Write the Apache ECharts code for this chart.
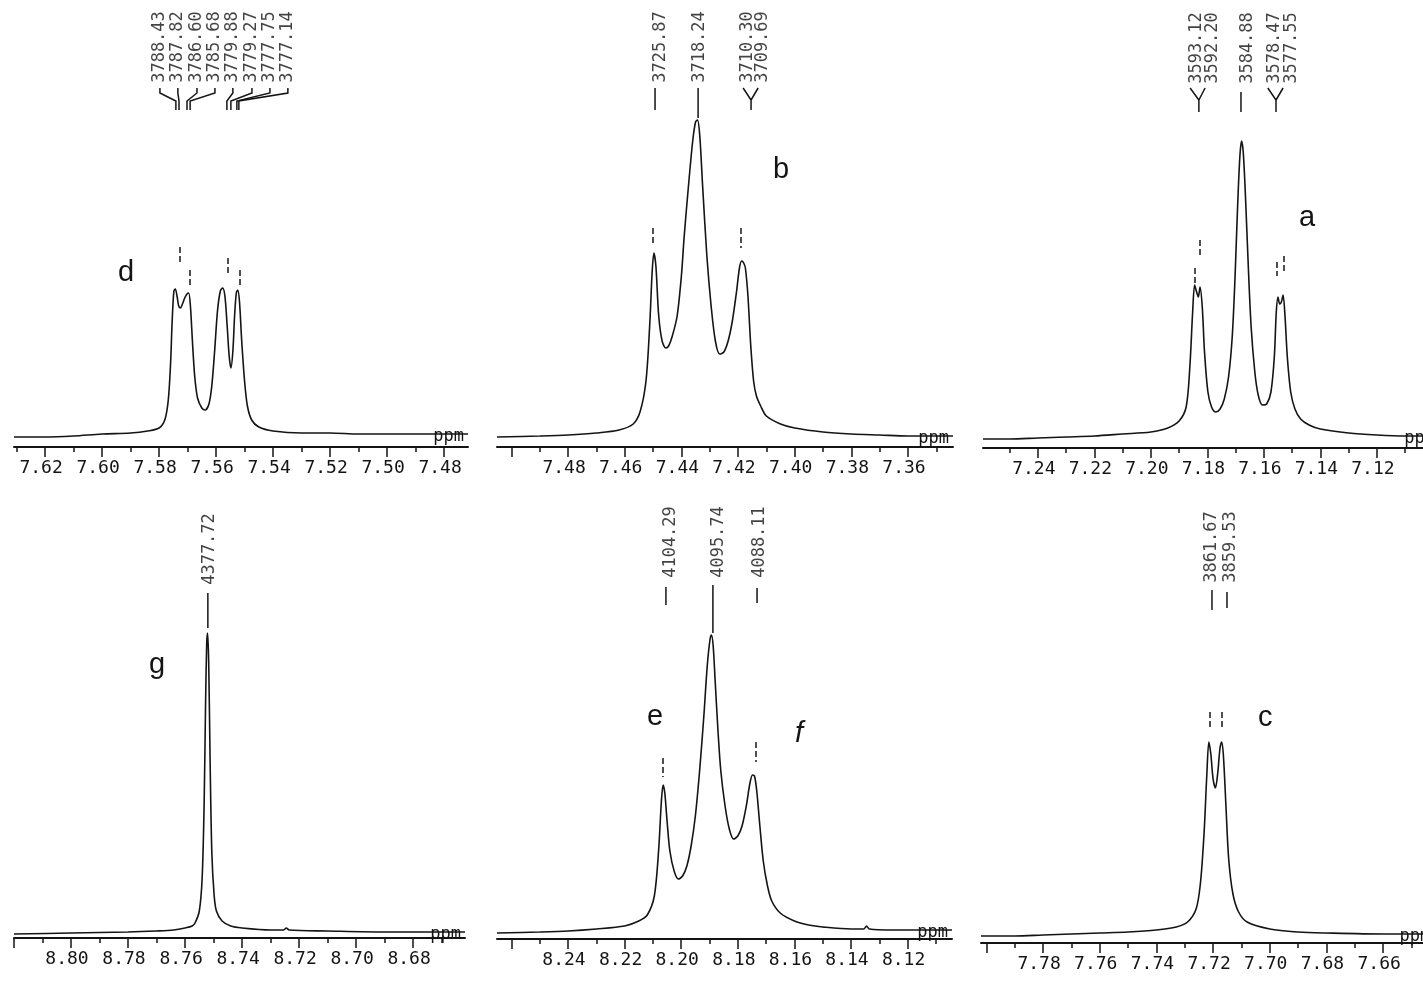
<!DOCTYPE html>
<html><head><meta charset="utf-8">
<script src="https://cdn.jsdelivr.net/npm/echarts@6/dist/echarts.min.js"></script>
<style>html,body{margin:0;padding:0;background:#fff}#c{width:1423px;height:981px}</style>
</head><body><div id="c"></div>
<script>
// ---------------- DATA (ppm positions and intensities) ----------------
const ppmD = [7.6309,7.62,7.61,7.60,7.59,7.584,7.580,7.578,7.5768,7.576,7.5754,7.5748,7.5743,7.5737,7.5731,7.5725,7.5718,7.5710,7.5702,7.5696,7.5690,7.5683,7.5675,7.5665,7.565,7.5638,7.5625,7.5615,7.5605,7.5595,7.5585,7.5577,7.5569,7.5561,7.5554,7.5548,7.5541,7.5535,7.5529,7.5524,7.5518,7.551,7.55,7.549,7.5475,7.545,7.54,7.53,7.52,7.51,7.50,7.49,7.4716];
const intD = [-1,-1,0,2,3,5,8,16,35,70,115,145,147,140,130,128,132,138,142,143,130,95,60,38,28,26,32,50,85,125,145,148,140,110,80,68,85,120,143,146,135,95,55,30,16,9,5,3,3,2,2,2,2];
const hzD  = ['3788.43','3787.82','3786.60','3785.68','3779.88','3779.27','3777.75','3777.14'];

const ppmB = [7.5051,7.49,7.48,7.47,7.462,7.457,7.4545,7.4525,7.4512,7.4503,7.4497,7.449,7.448,7.4468,7.4455,7.4445,7.4432,7.4415,7.44,7.439,7.4375,7.436,7.435,7.4343,7.4335,7.4325,7.431,7.4295,7.428,7.4265,7.425,7.4235,7.422,7.4205,7.4195,7.4187,7.418,7.4174,7.4165,7.4155,7.4145,7.4135,7.412,7.41,7.405,7.40,7.39,7.38,7.37,7.36,7.3441];
const intB = [-1,0,1,3,6,12,25,55,110,165,183,170,120,95,88,90,100,120,160,200,250,295,314,316,300,250,180,130,95,82,84,95,115,145,168,175,173,168,140,90,55,40,30,20,12,8,4,2,1,0,0];
const hzB  = ['3725.87','3718.24','3710.30','3709.69'];

const ppmA = [7.2594,7.25,7.24,7.23,7.22,7.21,7.20,7.194,7.19,7.1875,7.1862,7.1852,7.1845,7.1838,7.1832,7.1826,7.1818,7.181,7.1798,7.1785,7.177,7.1755,7.174,7.1725,7.1712,7.1702,7.1693,7.1685,7.1679,7.1673,7.1665,7.1655,7.1645,7.1632,7.162,7.1605,7.159,7.1575,7.1563,7.1556,7.155,7.1544,7.1538,7.1532,7.1525,7.1517,7.1505,7.149,7.147,7.144,7.14,7.13,7.12,7.11,7.098];
const intA = [-2,-2,-1,0,1,3,5,9,16,30,70,125,152,145,140,150,130,85,45,30,25,28,38,60,100,160,230,280,296,285,240,170,110,65,42,32,33,45,80,125,140,133,135,142,120,80,45,28,18,12,8,4,2,1,1];
const hzA  = ['3593.12','3592.20','3584.88','3578.47','3577.55'];

const ppmG = [8.82,8.80,8.78,8.77,8.764,8.76,8.7575,8.7565,8.755,8.754,8.7533,8.7528,8.7524,8.7521,8.7517,8.7512,8.7506,8.7498,8.749,8.747,8.744,8.74,8.73,8.7255,8.7245,8.7235,8.71,8.69,8.67,8.6618];
const intG = [-1,0,1,2,3,5,7,10,22,55,130,230,290,300,270,170,80,38,22,12,7,5,3,3,5,3,2,1,1,1];
const hzG  = ['4377.72'];

const ppmE = [8.2651,8.25,8.24,8.23,8.22,8.215,8.212,8.2095,8.208,8.207,8.2064,8.2058,8.205,8.204,8.2025,8.201,8.1995,8.198,8.1965,8.195,8.1935,8.192,8.1908,8.1898,8.1893,8.1887,8.188,8.187,8.186,8.1845,8.183,8.1815,8.18,8.1785,8.177,8.1757,8.1748,8.1741,8.1733,8.1722,8.171,8.1695,8.168,8.165,8.16,8.155,8.15,8.14,8.1355,8.1345,8.1335,8.125,8.115,8.1043];
const intE = [-2,-1,0,2,5,10,16,35,80,130,146,138,110,80,60,52,55,65,85,115,160,215,265,292,296,285,250,200,160,125,102,92,95,105,125,148,156,155,140,105,70,45,30,18,10,6,4,2,2,5,2,1,1,1];
const hzE  = ['4104.29','4095.74','4088.11'];

const ppmC = [7.8019,7.79,7.78,7.77,7.76,7.75,7.74,7.733,7.729,7.726,7.7245,7.7232,7.7222,7.7215,7.7208,7.72,7.7192,7.7184,7.7176,7.717,7.7164,7.7155,7.7145,7.713,7.711,7.708,7.70,7.69,7.68,7.66,7.642];
const intC = [-2,-2,-1,0,1,2,4,7,12,25,50,100,160,192,180,155,146,160,185,192,180,130,75,40,22,12,5,2,1,0,0];
const hzC  = ['3861.67','3859.53'];

// tick labels (ppm)
const labD = [7.48,7.50,7.52,7.54,7.56,7.58,7.60,7.62];
const labB = [7.36,7.38,7.40,7.42,7.44,7.46,7.48];
const labA = [7.12,7.14,7.16,7.18,7.20,7.22,7.24];
const labG = [8.68,8.70,8.72,8.74,8.76,8.78,8.80];
const labE = [8.12,8.14,8.16,8.18,8.20,8.22,8.24];
const labC = [7.66,7.68,7.70,7.72,7.74,7.76,7.78];
// major (long) ticks
const majD = [7.48,7.50,7.52,7.54,7.56,7.58,7.60,7.62];
const majB = [7.36,7.38,7.40,7.42,7.44,7.46,7.48,7.50];
const majA = [7.10,7.12,7.14,7.16,7.18,7.20,7.22,7.24];
const majG = [8.68,8.70,8.72,8.74,8.76,8.78,8.80,8.82];
const majE = [8.12,8.14,8.16,8.18,8.20,8.22,8.24,8.26];
const majC = [7.64,7.66,7.68,7.70,7.72,7.74,7.76,7.78,7.80];
const panelLetters = ['d','b','a','g','e','f','c'];

// ---------------- LAYOUT ----------------
const panels = [
  {ppm:ppmD, val:intD, hz:hzD, lab:labD, maj:majD, minor:[748,763],
   box:{left:14,width:454,top:0,axisY:447,gap:11,min:7.4716,max:7.6309},
   labelX:[7.5797,7.5734,7.5667,7.5604,7.5541,7.5474,7.5411,7.5348], labelY:389, font:17,
   links:[[[7.5797,348],[7.5797,343],[7.5741,335],[7.5741,326]],[[7.5734,348],[7.5734,343],[7.5730,335],[7.5730,326]],
          [[7.5667,348],[7.5667,343],[7.5702,335],[7.5702,326]],[[7.5604,348],[7.5604,343],[7.5691,335],[7.5691,326]],
          [[7.5541,348],[7.5541,343],[7.5562,335],[7.5562,326]],[[7.5474,348],[7.5474,343],[7.5548,335],[7.5548,326]],
          [[7.5411,348],[7.5411,343],[7.5527,335],[7.5527,326]],[[7.5348,348],[7.5348,343],[7.5520,335],[7.5520,326]]],
   marks:[[7.5727,189,174],[7.5691,166,151],[7.5558,178,161],[7.5516,166,151]]},
  {ppm:ppmB, val:intB, hz:hzB, lab:labB, maj:majB, minor:[735,750],
   box:{left:497,width:456,top:0,axisY:447,gap:11,min:7.3441,max:7.5051},
   labelX:[7.4475,7.4334,7.4168,7.4115], labelY:389, font:17,
   links:[[[7.4493,348],[7.4493,326]],[[7.4341,348],[7.4341,318]],[[7.4182,348],[7.4154,336],[7.4154,326]],[[7.4129,348],[7.4154,336]]],
   marks:[[7.4500,208,191],[7.4189,208,188]]},
  {ppm:ppmA, val:intA, hz:hzA, lab:labA, maj:majA, minor:[709,725],
   box:{left:983,width:473,top:0,axisY:448,gap:11,min:7.0920,max:7.2594},
   labelX:[7.1837,7.1780,7.1656,7.1561,7.1501], labelY:389, font:17,
   links:[[[7.1861,349],[7.1830,337],[7.1830,325]],[[7.1808,349],[7.1830,337]],[[7.1681,345],[7.1681,325]],
          [[7.1586,349],[7.1557,337],[7.1557,325]],[[7.1532,349],[7.1557,337]]],
   marks:[[7.1844,169,154],[7.1826,197,179],[7.1554,175,161],[7.1529,181,165]]},
  {ppm:ppmG, val:intG, hz:hzG, lab:labG, maj:majG, minor:[867,882],
   box:{left:14,width:451,top:490,axisY:938,gap:5,min:8.6618,max:8.82},
   labelX:[8.7513], labelY:384, font:17,
   links:[[[8.7520,340],[8.7520,305]]], marks:[]},
  {ppm:ppmE, val:intE, hz:hzE, lab:labE, maj:majE, minor:[811,826],
   box:{left:497,width:455,top:490,axisY:939,gap:8,min:8.1043,max:8.2651},
   labelX:[8.2036,8.1867,8.1722], labelY:389, font:17,
   links:[[[8.2054,344],[8.2054,326]],[[8.1888,346],[8.1888,298]],[[8.1732,343],[8.1732,328]]],
   marks:[[8.2064,173,154],[8.1736,189,169]]},
  {ppm:ppmC, val:intC, hz:hzC, lab:labC, maj:majC, minor:[764,780],
   box:{left:981,width:471,top:490,axisY:943,gap:9,min:7.6357,max:7.8019},
   labelX:[7.7204,7.7137], labelY:387, font:17,
   links:[[[7.7204,344],[7.7204,324]],[[7.7151,342],[7.7151,326]]],
   marks:[[7.7211,222,206],[7.7168,222,206]]}
];
const letterPos = [[118,258,'normal'],[773,155,'normal'],[1299,203,'normal'],[149,650,'normal'],[647,702,'normal'],[795,719,'italic'],[1258,703,'normal']];

const INK = '#141414';
const MONO = 'DejaVu Sans Mono';
const grid = [], xAxis = [], yAxis = [], series = [];
panels.forEach((p, i) => {
  const b = p.box;
  grid.push({left:b.left, width:b.width, top:b.top, height:b.axisY - b.top, containLabel:false, outerBoundsMode:'none'});
  yAxis.push({gridIndex:i, type:'value', min:-b.gap, max:(b.axisY - b.top) - b.gap, show:false});
  const minorTicks = [];
  for (let k = p.minor[0]; k <= p.minor[1]; k++) minorTicks.push(k / 100);
  xAxis.push({gridIndex:i, type:'value', inverse:true, min:b.min, max:b.max, position:'bottom', offset:0,
    axisLine:{show:true, onZero:false, lineStyle:{color:INK, width:2}},
    axisTick:{show:true, inside:false, length:5, customValues:minorTicks, lineStyle:{color:INK, width:1.5}},
    axisLabel:{show:false}, splitLine:{show:false}});
  xAxis.push({gridIndex:i, type:'value', inverse:true, min:b.min, max:b.max, position:'bottom', offset:0,
    axisLine:{show:false, onZero:false},
    axisTick:{show:true, inside:false, length:10, customValues:p.maj, lineStyle:{color:INK, width:1.5}},
    axisLabel:{show:true, customValues:p.lab, formatter:v => v.toFixed(2), fontFamily:MONO, fontSize:18,
      color:INK, margin:12, padding:[0,8,0,0], showMinLabel:true, showMaxLabel:true},
    splitLine:{show:false}});
  const xi = 2 * i;
  series.push({type:'line', xAxisIndex:xi, yAxisIndex:i, data:p.ppm.map((x, j) => [x, p.val[j]]),
    showSymbol:false, symbol:'none', smooth:0.3, lineStyle:{color:INK, width:1.6}, silent:true,
    endLabel:{show:true, formatter:'ppm', fontFamily:MONO, fontSize:17, color:INK, offset:[4,3]}});
  series.push({type:'scatter', xAxisIndex:xi, yAxisIndex:i, symbolSize:0, silent:true,
    data:p.hz.map((t, j) => ({name:t, value:[p.labelX[j], p.labelY]})),
    label:{show:true, position:'inside', rotate:90, align:'center', verticalAlign:'middle', formatter:'{b}',
      fontFamily:MONO, fontSize:p.font, color:INK}});
  series.push({type:'lines', coordinateSystem:'cartesian2d', xAxisIndex:xi, yAxisIndex:i, polyline:true, silent:true,
    data:p.links.map(c => ({coords:c})), lineStyle:{color:INK, width:1.5, opacity:1}});
  if (p.marks.length) series.push({type:'lines', coordinateSystem:'cartesian2d', xAxisIndex:xi, yAxisIndex:i, silent:true,
    data:p.marks.map(m => ({coords:[[m[0], m[1]], [m[0], m[2]]]})), lineStyle:{color:INK, width:1.5, type:[6,3], opacity:1}});
});

const graphic = panelLetters.map((t, i) => ({type:'text', left:letterPos[i][0], top:letterPos[i][1],
  style:{text:t, font:letterPos[i][2] + ' 29px "Liberation Sans", Arial, sans-serif', fill:INK}}));

const chart = echarts.init(document.getElementById('c'), null, {renderer:'canvas'});
chart.setOption({animation:false, backgroundColor:'#ffffff', grid, xAxis, yAxis, series, graphic});
</script></body></html>
